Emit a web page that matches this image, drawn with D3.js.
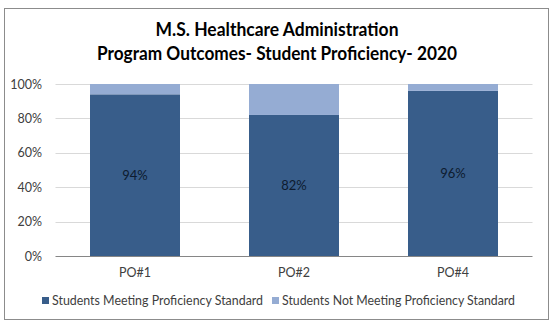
<!DOCTYPE html>
<html><head><meta charset="utf-8">
<script src="https://cdn.jsdelivr.net/npm/d3@7"></script>
<style>body{margin:0;background:#fff;font-family:Lato,"Open Sans",sans-serif}</style>
</head><body><svg id="c" width="555" height="328"></svg>
<script>
const categories = ["PO#1","PO#2","PO#4"];
const meeting = [0.94, 0.82, 0.96];
const notMeeting = [0.06, 0.18, 0.04];
const seriesNames = ["Students Meeting Proficiency Standard","Students Not Meeting Proficiency Standard"];
const yTicks = [0,0.2,0.4,0.6,0.8,1.0];
const titleLines = ["M.S. Healthcare Administration","Program Outcomes- Student Proficiency- 2020"];
const colors = ["#385d8a","#95acd3"];
const F = "Lato, 'Open Sans', sans-serif";

const svg = d3.select("#c");
svg.append("rect").attr("x",4.5).attr("y",8.5).attr("width",544).attr("height",311)
  .attr("fill","#fff").attr("stroke","#8c8c8c").attr("stroke-width",1);

const tw=[243,360];
titleLines.forEach((t,i)=>{
  svg.append("text").attr("x",277).attr("y",36+i*24).attr("text-anchor","middle")
    .attr("font-family",F).attr("font-weight","bold").attr("font-size",19)
    .attr("fill","#000").attr("textLength",tw[i]).attr("lengthAdjust","spacingAndGlyphs").text(t);
});

const x = d3.scaleBand().domain(categories).range([55.5,532.5]).paddingInner(0.434).paddingOuter(0.217);
const y = d3.scaleLinear().domain([0,1]).range([256,84]);

svg.append("g").selectAll("line").data(yTicks).join("line")
  .attr("x1",55.5).attr("x2",532.5).attr("y1",d=>Math.round(y(d))+0.5).attr("y2",d=>Math.round(y(d))+0.5)
  .attr("stroke",d=>d===0?"#868686":"#d9d9d9").attr("stroke-width",1);

const yAxis = svg.append("g").attr("transform","translate(55,0)")
  .call(d3.axisLeft(y).tickValues(yTicks).tickFormat(d3.format(".0%")).tickSize(0).tickPadding(13));
yAxis.select(".domain").remove();
yAxis.selectAll("text").attr("font-family",F).attr("font-size",12.5).attr("fill","#404040");

const stack = categories.map((c,i)=>({c, a:meeting[i], b:notMeeting[i]}));
svg.selectAll("rect.m").data(stack).join("rect").attr("class","m")
  .attr("x",d=>x(d.c)).attr("width",x.bandwidth()).attr("y",d=>y(d.a)).attr("height",d=>y(0)-y(d.a)).attr("fill",colors[0]);
svg.selectAll("rect.n").data(stack).join("rect").attr("class","n")
  .attr("x",d=>x(d.c)).attr("width",x.bandwidth()).attr("y",d=>y(d.a+d.b)).attr("height",d=>y(d.a)-y(d.a+d.b)).attr("fill",colors[1]);
svg.selectAll("text.lab").data(stack).join("text").attr("class","lab")
  .attr("x",d=>x(d.c)+x.bandwidth()/2).attr("y",d=>y(d.a/2)+5).attr("text-anchor","middle")
  .attr("font-family",F).attr("font-size",13).attr("fill","#0d1b2e").text(d=>d3.format(".0%")(d.a));

const xAxis = svg.append("g").attr("transform","translate(0,256)")
  .call(d3.axisBottom(x).tickSize(0).tickPadding(12));
xAxis.select(".domain").remove();
xAxis.selectAll("text").attr("font-family",F).attr("font-size",12.5).attr("fill","#404040");

const leg = [{x:42,t:seriesNames[0],c:colors[0],w:211},{x:272,t:seriesNames[1],c:colors[1],w:233}];
leg.forEach(l=>{
  svg.append("rect").attr("x",l.x).attr("y",297).attr("width",7).attr("height",7).attr("fill",l.c);
  svg.append("text").attr("x",l.x+10).attr("y",305).attr("font-family",F)
    .attr("font-size",12.5).attr("fill","#404040").attr("textLength",l.w).attr("lengthAdjust","spacingAndGlyphs").text(l.t);
});
</script></body></html>
